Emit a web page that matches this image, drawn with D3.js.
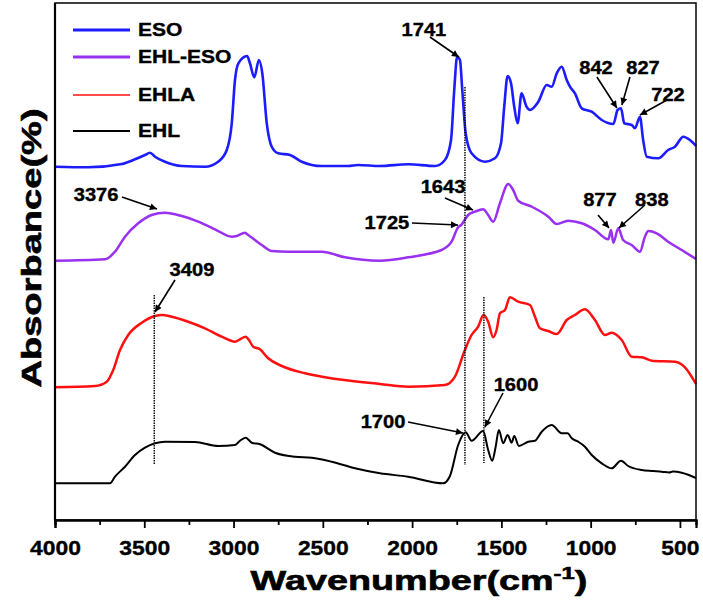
<!DOCTYPE html>
<html>
<head>
<meta charset="utf-8">
<title>FTIR spectra</title>
<script src="https://cdn.jsdelivr.net/npm/d3@7"></script>
<style>
body{margin:0;background:#fff}
text{font-family:"Liberation Sans",Arial,sans-serif;font-weight:bold;stroke:#000;stroke-width:0.35px;fill:#000}
</style>
</head>
<body>
<svg id="mySVG" width="703" height="604"></svg>
<script>
//---x axis---
var majorTicks=[4000,3500,3000,2500,2000,1500,1000,500]
var minorTicks=[3750,3250,2750,2250,1750,1250,750]

//---series [wavenumber, absorbance (offset)]---
var seriesNames=["ESO","EHL-ESO","EHLA","EHL"]
var esoData=[[4000,3.533],[3815,3.527],[3626,3.56],[3552,3.607],[3496,3.65],[3468,3.673],[3440,3.633],[3384,3.583],[3290,3.54],[3160,3.533],[3086,3.583],[3038,3.70],[3010,3.967],[2992,4.40],[2973,4.567],[2924,4.64],[2908,4.567],[2884,4.427],[2858,4.60],[2839,4.467],[2814,3.967],[2786,3.733],[2750,3.667],[2684,3.65],[2618,3.583],[2506,3.54],[2358,3.54],[2302,3.55],[2180,3.54],[2022,3.557],[1872,3.54],[1816,3.60],[1782,3.80],[1764,4.30],[1748,4.633],[1732,4.60],[1719,4.30],[1700,3.867],[1667,3.667],[1592,3.583],[1536,3.617],[1502,3.767],[1484,4.133],[1465,4.44],[1446,4.367],[1428,4.133],[1409,3.967],[1387,4.267],[1359,4.133],[1340,4.10],[1293,4.183],[1246,4.35],[1218,4.333],[1190,4.467],[1162,4.533],[1134,4.40],[1116,4.333],[1088,4.267],[1050,4.117],[994,4.083],[938,4.00],[873,3.96],[849,4.10],[830,4.117],[812,3.967],[770,3.95],[752,3.917],[724,4.033],[706,3.80],[686,3.633],[621,3.617],[566,3.70],[528,3.733],[481,3.833],[444,3.80],[410,3.74]]
var ehlEsoData=[[4000,2.593],[3720,2.607],[3664,2.683],[3608,2.833],[3534,2.967],[3459,3.05],[3384,3.073],[3290,3.04],[3198,2.983],[3104,2.907],[3010,2.833],[2982,2.84],[2936,2.873],[2918,2.85],[2880,2.80],[2842,2.75],[2786,2.69],[2694,2.683],[2506,2.683],[2376,2.627],[2180,2.593],[2022,2.627],[1835,2.70],[1779,2.783],[1742,2.927],[1725,2.95],[1686,3.05],[1648,3.083],[1602,3.107],[1574,3.05],[1546,2.983],[1508,3.167],[1462,3.36],[1434,3.30],[1406,3.193],[1330,3.133],[1237,3.033],[1190,2.96],[1126,2.993],[1050,2.967],[976,2.90],[901,2.807],[886,2.90],[873,2.773],[845,2.917],[818,2.80],[770,2.75],[724,2.683],[696,2.833],[677,2.89],[630,2.867],[566,2.783],[490,2.70],[410,2.61]]
var ehlaData=[[4000,1.327],[3776,1.34],[3710,1.383],[3674,1.50],[3636,1.70],[3590,1.85],[3514,1.973],[3440,2.04],[3402,2.05],[3346,2.033],[3254,1.983],[3160,1.917],[3066,1.833],[2992,1.783],[2964,1.807],[2932,1.833],[2914,1.80],[2890,1.733],[2852,1.707],[2806,1.617],[2730,1.54],[2600,1.467],[2414,1.407],[2180,1.36],[2022,1.333],[1816,1.35],[1760,1.433],[1708,1.683],[1667,1.85],[1630,1.933],[1600,2.05],[1574,1.983],[1546,1.827],[1527,1.90],[1508,2.067],[1480,2.10],[1452,2.227],[1406,2.183],[1340,2.15],[1312,2.033],[1284,1.917],[1237,1.89],[1190,1.86],[1134,2.00],[1088,2.05],[1032,2.107],[976,2.00],[920,1.85],[882,1.873],[826,1.80],[770,1.633],[714,1.627],[658,1.593],[528,1.583],[472,1.527],[410,1.36]]
var ehlData=[[4000,0.367],[3692,0.367],[3664,0.433],[3608,0.533],[3552,0.65],[3496,0.723],[3440,0.767],[3384,0.783],[3216,0.78],[3086,0.74],[2992,0.75],[2964,0.793],[2932,0.823],[2898,0.773],[2852,0.757],[2768,0.673],[2656,0.633],[2562,0.623],[2451,0.583],[2320,0.517],[2180,0.467],[2022,0.433],[1826,0.367],[1788,0.44],[1742,0.75],[1700,0.877],[1667,0.793],[1602,0.89],[1574,0.70],[1551,0.593],[1532,0.733],[1514,0.90],[1490,0.767],[1465,0.85],[1442,0.773],[1428,0.84],[1402,0.74],[1350,0.783],[1312,0.793],[1274,0.883],[1218,0.95],[1162,0.867],[1129,0.867],[1106,0.817],[1070,0.783],[1032,0.733],[994,0.65],[938,0.567],[882,0.517],[830,0.593],[790,0.54],[714,0.50],[650,0.49],[602,0.483],[560,0.475],[540,0.485],[490,0.473],[450,0.45],[410,0.42]]
var seriesData=[esoData,ehlEsoData,ehlaData,ehlData]

//---peak labels: text at [w,a], arrow from [w,a] to [w,a]---
var peakText=["1741","842","827","722","3376","1643","1725","877","838","3409","1600","1700"]
var peakTextAt=[[1934,4.90],[970,4.52],[707,4.52],[567,4.25],[3770,3.25],[1827,3.33],[2141,2.97],[948,3.20],[657,3.20],[3233,2.50],[1418,1.35],[2163,0.98]]
var peakArrowFrom=[[1900,4.83],[965,4.43],[780,4.43],[573,4.20],[3625,3.23],[1816,3.22],[2001,2.97],[959,3.05],[696,3.15],[3328,2.40],[1491,1.27],[2023,0.98]]
var peakArrowTo=[[1738,4.63],[853,4.12],[825,4.15],[724,4.05],[3429,3.11],[1659,3.10],[1743,2.95],[897,2.92],[842,2.92],[3440,2.08],[1592,0.93],[1715,0.87]]

//---dotted guide lines [wavenumber, top, bottom]---
var guideLines=[[1704,4.33,0.55],[1598,2.23,0.57],[3444,2.25,0.55]]

var colors=["#1c1cff","#9a30f0","#ff1010","#000000"]
var lineWidths=[2.6,2.5,2.5,2]

var svg=d3.select("#mySVG")
var plotLeft=55,plotRight=696,plotTop=3,plotBottom=520

var x=d3.scaleLinear().domain([4000,410]).range([plotLeft,plotRight])
var y=d3.scaleLinear().domain([0,5.17]).range([plotBottom,plotTop])

//---stretched bold text---
function addText(parent,px,py,str,size,sx,anchor)
{
    return parent.append("text")
    .attr("transform","translate("+px+","+py+")scale("+sx+",1)")
    .attr("font-size",size)
    .attr("text-anchor",anchor||"middle")
    .attr("dy","0.35em")
    .text(str)
}

svg.append("defs").append("marker")
.attr("id","arrowHead")
.attr("viewBox","0 0 10 10")
.attr("refX",10)
.attr("refY",5)
.attr("markerWidth",9)
.attr("markerHeight",7)
.attr("markerUnits","userSpaceOnUse")
.attr("orient","auto")
.append("path")
.attr("d","M0,0L10,5L0,10Z")
.attr("fill","black")

//---curves---
var line=d3.line()
.x(function(d){return x(d[0])})
.y(function(d){return y(d[1])})
.curve(d3.curveMonotoneX)

svg.selectAll(".spectrum")
.data(seriesData)
.enter().append("path")
.attr("class","spectrum")
.attr("d",line)
.attr("fill","none")
.attr("stroke",function(d,i){return colors[i]})
.attr("stroke-width",function(d,i){return lineWidths[i]})
.attr("stroke-linejoin","round")

//---dotted guides---
svg.selectAll(".guide")
.data(guideLines)
.enter().append("line")
.attr("x1",function(d){return x(d[0])})
.attr("x2",function(d){return x(d[0])})
.attr("y1",function(d){return y(d[1])})
.attr("y2",function(d){return y(d[2])})
.attr("stroke","#111")
.attr("stroke-width",1.5)
.attr("stroke-dasharray","1.5,1")

//---arrows + labels---
peakText.forEach(function(t,i)
{
    svg.append("line")
    .attr("x1",x(peakArrowFrom[i][0]))
    .attr("y1",y(peakArrowFrom[i][1]))
    .attr("x2",x(peakArrowTo[i][0]))
    .attr("y2",y(peakArrowTo[i][1]))
    .attr("stroke","black")
    .attr("stroke-width",1.6)
    .attr("marker-end","url(#arrowHead)")
    addText(svg,x(peakTextAt[i][0]),y(peakTextAt[i][1]),t,17.5,1.15)
})

//---frame---
svg.append("rect")
.attr("x",plotLeft)
.attr("y",plotTop)
.attr("width",plotRight-plotLeft)
.attr("height",plotBottom-plotTop)
.attr("fill","none")
.attr("stroke","black")
.attr("stroke-width",1.5)
svg.append("line")
.attr("x1",plotLeft).attr("x2",plotLeft)
.attr("y1",plotTop).attr("y2",plotBottom)
.attr("stroke","black").attr("stroke-width",2.2)

//---x axis---
var axisG=svg.append("g")
.attr("transform","translate(0,"+plotBottom+")")
axisG.call(d3.axisBottom(x).tickValues(minorTicks).tickSize(5).tickFormat(""))
var majorG=svg.append("g")
.attr("transform","translate(0,"+plotBottom+")")
majorG.call(d3.axisBottom(x).tickValues(majorTicks).tickSize(8).tickPadding(12).tickFormat(d3.format("d")))
svg.selectAll(".domain").attr("stroke-width",2.2)
svg.selectAll(".tick line").attr("stroke-width",1.8)
majorG.selectAll("text")
.attr("font-size",21)
.attr("font-family","Liberation Sans,Arial,sans-serif")
.attr("font-weight","bold")
.attr("fill","#111")
.attr("transform","scale(1.09,1)")

//---axis titles---
var xt=svg.append("text")
.attr("transform","translate(419,590)scale(1.4,1)")
.attr("text-anchor","middle")
.attr("font-size",27)
.style("stroke-width","0.6px")
xt.append("tspan").text("Wavenumber(cm")
xt.append("tspan").attr("font-size",17).attr("dy",-11).text("-1")
xt.append("tspan").attr("dy",11).text(")")

svg.append("text")
.attr("transform","translate(41,248)rotate(-90)scale(1.41,1)")
.attr("text-anchor","middle")
.attr("font-size",27)
.style("stroke-width","0.6px")
.text("Absorbance(%)")

//---legend---
var legendY=[30,57,95,131]
var legendW=[3,3,1.5,2]
seriesNames.forEach(function(name,i)
{
    svg.append("line")
    .attr("x1",73).attr("x2",130)
    .attr("y1",legendY[i]).attr("y2",legendY[i])
    .attr("stroke",colors[i])
    .attr("stroke-width",legendW[i])
    addText(svg,138,legendY[i],name,17.5,1.2,"start")
})
</script>
</body>
</html>
